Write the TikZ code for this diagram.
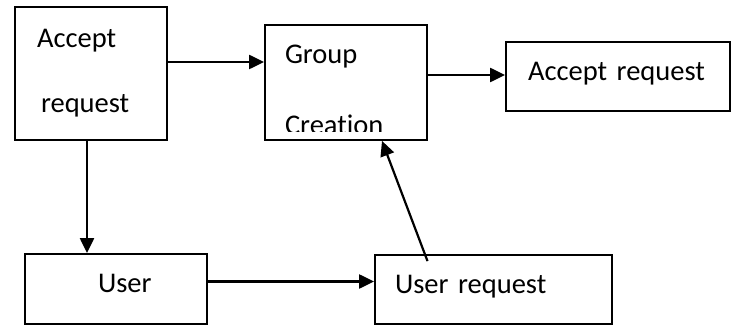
\documentclass[tikz,border=0pt]{standalone}
\usepackage{fontspec}
\setmainfont{Carlito}[Ligatures=NoCommon]
\usetikzlibrary{arrows.meta}

\begin{document}
\begin{tikzpicture}[x=1pt, y=-1pt,
  box/.style={draw, line width=1.8pt, inner sep=0pt, align=left,
    font=\fontsize{28.5}{65}\selectfont},
  onebox/.style={box, text depth=11pt},
  arr/.style={-{Triangle[length=15pt,width=14pt]}, line width=2.2pt}]
\useasboundingbox (0,0) rectangle (736,326);

\node[box, minimum width=152pt, minimum height=133pt, text width=132pt] (accept) at (91,73.5)
  {\hspace*{12pt}Accept\\ \hspace*{16pt}request};
\node[box, minimum width=162pt, minimum height=115pt, text width=142pt,
  font=\fontsize{28.5}{71}\selectfont] (group) at (346,82.5)
  {\hspace*{10pt}\rule{0pt}{34pt}Group\\ \hspace*{10pt}Creation};
% text cut off at the bottom of the box
\fill[white] ([shift={(2pt,2pt)}]group.south west) rectangle ([shift={(-2pt,8.5pt)}]group.south east);
\node[onebox, minimum width=224pt, minimum height=69pt, text width=204pt] (acceptreq) at (618,76.5)
  {\hspace*{12pt}Accept request};
\node[onebox, minimum width=182pt, minimum height=70pt, text width=162pt] (user) at (116,289)
  {\hspace*{63pt}User};
\node[onebox, minimum width=237pt, minimum height=69pt, text width=217pt] (userreq) at (493.5,289.5)
  {\hspace*{10pt}User request};

\draw[arr] ([yshift=11.5pt]accept.east) -- ([yshift=11.5pt]accept.east -| group.west);
\draw[arr] ([yshift=7.5pt]group.east) -- ([yshift=7.5pt]group.east -| acceptreq.west);
\draw[arr] ([xshift=-4pt]accept.south) -- ([xshift=-4pt]accept.south |- user.north);
\draw[arr] ([yshift=7.5pt]user.east) -- ([yshift=7.5pt]user.east -| userreq.west);
\draw[arr] ([xshift=-66pt,yshift=-7pt]userreq.north) -- ([xshift=36pt]group.south);
\end{tikzpicture}
\end{document}
